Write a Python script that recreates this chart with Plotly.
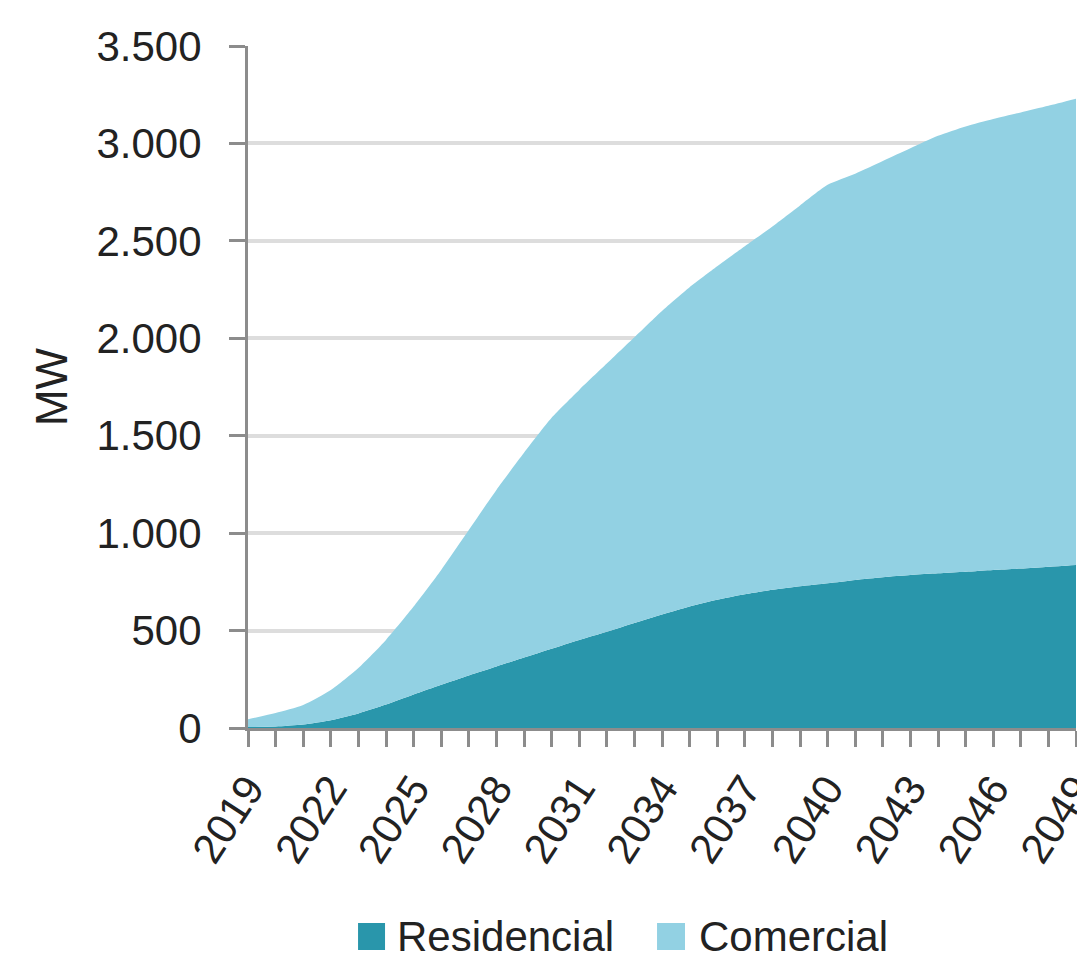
import plotly.graph_objects as go

years = list(range(2019, 2050))
total = [45, 77, 118, 195, 308, 452, 623, 811, 1016, 1222, 1412, 1592, 1735, 1870,
         2005, 2140, 2262, 2370, 2472, 2574, 2682, 2788, 2845, 2910, 2975, 3039,
         3087, 3125, 3159, 3193, 3229]
residencial = [5, 8, 18, 40, 75, 120, 172, 222, 270, 316, 362, 407, 452, 494, 539,
               583, 624, 658, 686, 710, 728, 743, 760, 774, 785, 794, 802, 811, 818,
               828, 837]
comercial = [t - r for t, r in zip(total, residencial)]
x_labels = list(range(2019, 2050, 3))
series_names = ["Residencial", "Comercial"]

DARK = "#2996AB"
LIGHT = "#92D1E3"
FONT = "Liberation Sans"

fig = go.Figure()
fig.add_trace(go.Scatter(x=years, y=residencial, name=series_names[0], stackgroup="one",
                         mode="lines", line=dict(width=0, shape="spline", smoothing=0.6),
                         fillcolor=DARK, showlegend=False))
fig.add_trace(go.Scatter(x=years, y=comercial, name=series_names[1], stackgroup="one",
                         mode="lines", line=dict(width=0, shape="spline", smoothing=0.6),
                         fillcolor=LIGHT, showlegend=False))

# custom legend (large square swatches)
legend_items = [(series_names[0], DARK, 0.1329, 0.1655, 0.1775),
                (series_names[1], LIGHT, 0.4940, 0.5278, 0.5423)]
for name, col, x0, x1, xt in legend_items:
    fig.add_shape(type="rect", xref="paper", yref="paper", x0=x0, x1=x1,
                  y0=-0.3255, y1=-0.2859, fillcolor=col, line=dict(width=0))
    fig.add_annotation(text=name, xref="paper", yref="paper", x=xt, y=-0.305,
                       xanchor="left", yanchor="middle", showarrow=False,
                       font=dict(size=42, color="#222222", family=FONT))

fig.update_layout(
    width=1077, height=959,
    margin=dict(l=248, r=1, t=46, b=231),
    plot_bgcolor="white", paper_bgcolor="white",
    separators=",.",
    font=dict(family=FONT, size=42, color="#222222"),
    showlegend=False,
)
fig.update_xaxes(
    range=[2019, 2049], tickvals=x_labels, ticktext=[str(v) for v in x_labels],
    tickangle=-57, ticks="outside", ticklen=16, tickwidth=3, tickcolor="#8c8c8c",
    minor=dict(dtick=1, tick0=2019, ticks="outside", ticklen=16, tickwidth=3,
               tickcolor="#8c8c8c", showgrid=False),
    showline=True, linecolor="#8c8c8c", linewidth=3, showgrid=False, zeroline=False,
    tickfont=dict(size=42), ticklabeloverflow="allow", automargin=False,
)
fig.update_yaxes(
    range=[0, 3500], dtick=500, tickformat=",d",
    ticks="outside", ticklen=16, tickwidth=3, tickcolor="#8c8c8c",
    showline=True, linecolor="#8c8c8c", linewidth=3,
    showgrid=True, gridcolor="#dddddd", gridwidth=4, zeroline=False,
    title=dict(text="MW", font=dict(size=44), standoff=16),
    tickfont=dict(size=42), ticklabelstandoff=19, automargin=False,
)
fig.write_html("out.html")
